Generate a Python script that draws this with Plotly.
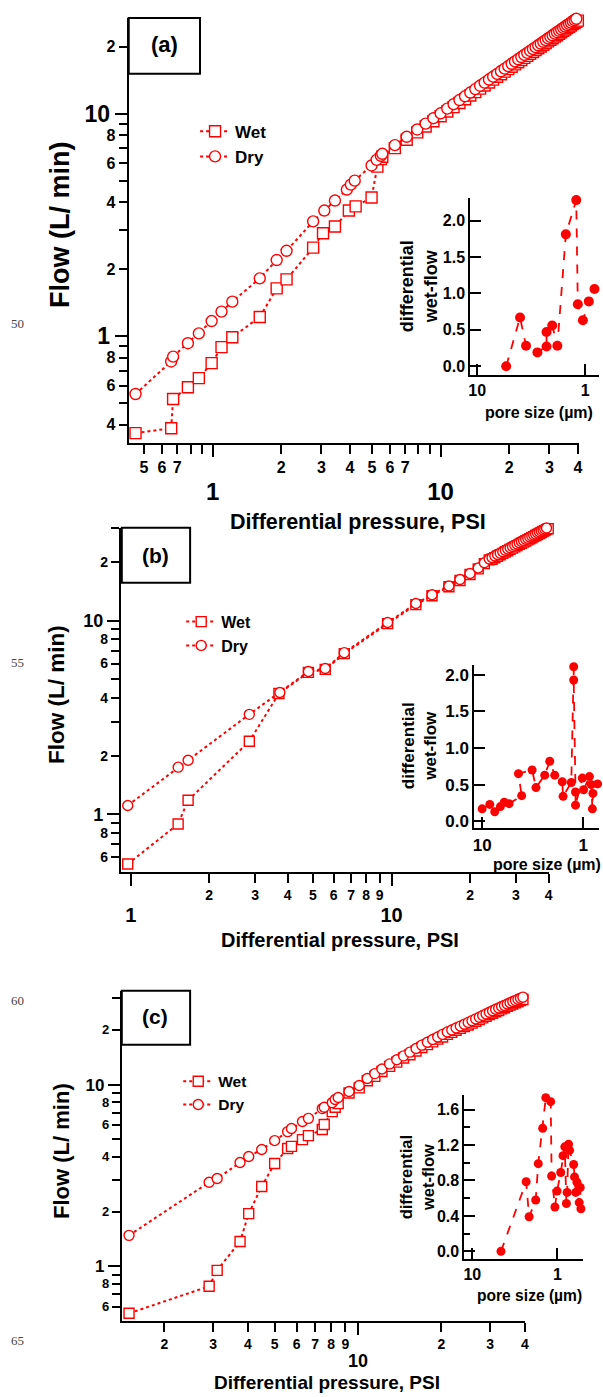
import plotly.graph_objects as go

W, H = 603, 1397
RED = "rgb(255,0,0)"
NARROW = "Liberation Sans Narrow, Arial Narrow, Liberation Sans, Arial, sans-serif"
SANS = "Liberation Sans, Arial, Helvetica, sans-serif"

# ---------------- Panel (a) ----------------
a_wet_p = [0.459, 0.658, 0.671, 0.779, 0.870, 0.99, 1.094, 1.22, 1.61, 1.91, 2.11, 2.76, 3.05, 3.44, 3.96, 4.24, 4.98, 5.28, 5.47, 5.55,
           6.3, 7.1, 7.9, 8.6, 9.3, 10.0, 10.7, 11.4, 12.1, 12.8, 13.5, 14.2, 14.9, 15.6, 16.3, 17.0, 17.7, 18.4, 19.1, 19.8,
           20.5, 21.2, 21.9, 22.6, 23.3, 24.0, 24.7, 25.4, 26.1, 26.8, 27.5, 28.2, 28.9, 29.6, 30.3, 31.0, 31.7, 32.4, 33.1,
           33.8, 34.5, 35.2, 35.9, 36.6, 37.3, 38.0, 38.7, 39.4, 40.0]
a_wet_f = [0.367, 0.386, 0.522, 0.59, 0.648, 0.757, 0.893, 0.99, 1.22, 1.64, 1.8, 2.5, 2.9, 3.11, 3.67, 3.83, 4.2, 5.78, 6.25, 6.4,
           7.0, 7.63, 8.24, 8.75, 9.25, 9.74, 10.22, 10.7, 11.16, 11.61, 12.07, 12.5, 12.95, 13.38, 13.8, 14.22, 14.64, 15.04,
           15.45, 15.86, 16.25, 16.65, 17.03, 17.42, 17.81, 18.19, 18.56, 18.93, 19.3, 19.67, 20.03, 20.4, 20.76, 21.12, 21.48,
           21.83, 22.18, 22.52, 22.87, 23.21, 23.56, 23.9, 24.24, 24.57, 24.9, 25.24, 25.56, 25.89, 26.17]
a_dry_p = [0.459, 0.658, 0.671, 0.779, 0.87, 0.99, 1.094, 1.22, 1.61, 1.91, 2.11, 2.76, 3.09, 3.44, 3.88, 4.04, 4.2, 4.98, 5.24, 5.47, 5.55,
           6.3, 7.1, 7.9, 8.6, 9.3, 10.0, 10.7, 11.4, 12.1, 12.8, 13.5, 14.2, 14.9, 15.6, 16.3, 17.0, 17.7, 18.4, 19.1, 19.8,
           20.5, 21.2, 21.9, 22.6, 23.3, 24.0, 24.7, 25.4, 26.1, 26.8, 27.5, 28.2, 28.9, 29.6, 30.3, 31.0, 31.7, 32.4, 33.1,
           33.8, 34.5, 35.2, 35.9, 36.6, 37.3, 38.0, 38.7, 39.4, 40.0]
a_dry_f = [0.55, 0.77, 0.81, 0.93, 1.03, 1.17, 1.29, 1.43, 1.82, 2.2, 2.42, 3.28, 3.67, 4.07, 4.56, 4.8, 5.0, 5.85, 6.2, 6.47, 6.6,
           7.22, 7.87, 8.49, 9.02, 9.54, 10.04, 10.54, 11.03, 11.51, 11.97, 12.44, 12.89, 13.35, 13.79, 14.23, 14.66, 15.09,
           15.51, 15.93, 16.35, 16.75, 17.16, 17.56, 17.96, 18.36, 18.75, 19.13, 19.52, 19.9, 20.28, 20.65, 21.03, 21.4, 21.77,
           22.14, 22.5, 22.87, 23.22, 23.58, 23.93, 24.29, 24.64, 24.99, 25.33, 25.67, 26.02, 26.35, 26.69, 26.98]
a_pore = [5.39, 4.01, 3.53, 2.77, 2.28, 2.28, 2.02, 1.81, 1.51, 1.21, 1.17, 1.05, 0.925, 0.82]
a_dwf = [0.0, 0.67, 0.28, 0.19, 0.27, 0.47, 0.56, 0.28, 1.81, 2.28, 0.85, 0.63, 0.89, 1.06]

# ---------------- Panel (b) ----------------
b_wet_p = [0.974, 1.52, 1.66, 2.85, 3.70, 4.8, 5.57, 6.59, 9.66, 12.4, 14.3, 16.6, 18.3, 20.0, 21.5, 22.7, 23.7,
           24.3, 24.9, 25.5, 26.1, 26.7, 27.3, 27.9, 28.5, 29.1, 29.7, 30.3, 30.9, 31.5, 32.1, 32.7, 33.3, 33.9, 34.5,
           35.1, 35.7, 36.3, 36.9, 37.5, 38.1, 38.7, 39.3, 39.9]
b_wet_f = [0.553, 0.89, 1.18, 2.38, 4.2, 5.4, 5.6, 6.75, 9.65, 12.1, 13.45, 14.95, 16.1, 17.3, 18.5, 19.7, 20.6,
           20.76, 21.13, 21.5, 21.87, 22.24, 22.61, 22.97, 23.32, 23.68, 24.04, 24.39, 24.75, 25.09, 25.44, 25.78, 26.13,
           26.47, 26.81, 27.16, 27.49, 27.83, 28.17, 28.5, 28.83, 29.16, 29.49, 29.82]
b_dry_p = [0.974, 1.52, 1.66, 2.85, 3.73, 4.8, 5.57, 6.59, 9.66, 12.4, 14.3, 16.6, 18.3, 20.0, 21.5, 22.7, 23.7,
           24.3, 24.9, 25.5, 26.1, 26.7, 27.3, 27.9, 28.5, 29.1, 29.7, 30.3, 30.9, 31.5, 32.1, 32.7, 33.3, 33.9, 34.5,
           35.1, 35.7, 36.3, 36.9, 37.5, 38.1, 38.7, 39.3, 39.9]
b_dry_f = [1.11, 1.75, 1.9, 3.28, 4.25, 5.46, 5.66, 6.83, 9.77, 12.25, 13.6, 15.1, 16.3, 17.5, 18.7, 19.9, 20.8,
           21.18, 21.56, 21.94, 22.32, 22.69, 23.07, 23.44, 23.8, 24.16, 24.53, 24.89, 25.25, 25.6, 25.96, 26.31, 26.66,
           27.01, 27.36, 27.71, 28.05, 28.4, 28.74, 29.08, 29.42, 29.76, 30.09, 30.43]
b_pore = [10.0, 8.4, 7.5, 6.6, 6.04, 5.4, 4.06, 4.37, 3.2, 2.93, 2.40, 2.14, 1.91, 1.61, 1.58, 1.31, 1.24, 1.24, 1.19, 1.19,
          1.02, 0.99, 0.867, 0.83, 0.81, 0.80, 0.72]
b_dwf = [0.17, 0.23, 0.13, 0.20, 0.26, 0.24, 0.35, 0.65, 0.70, 0.46, 0.63, 0.82, 0.63, 0.54, 0.34, 0.53, 2.11, 1.93, 0.40, 0.22,
         0.59, 0.43, 0.61, 0.50, 0.17, 0.38, 0.51]

# ---------------- Panel (c) ----------------
c_wet_p = [1.49, 2.90, 3.10, 3.75, 4.03, 4.49, 5.0, 5.57, 5.75, 6.3, 6.62, 7.43, 7.55, 8.07, 8.27, 8.48, 9.28, 10.1, 10.8,
           11.5, 12.2, 13.0, 13.8, 14.6, 15.4, 16.2, 17.0, 17.8, 18.6, 19.4, 20.2, 21.0, 21.8, 22.6, 23.4, 24.2, 25.0, 25.8,
           26.6, 27.4, 28.2, 29.0, 29.8, 30.6, 31.4, 32.2, 33.0, 33.8, 34.6, 35.4, 36.2, 37.0, 37.8, 38.6, 39.4, 40.2]
c_wet_f = [0.551, 0.776, 0.95, 1.37, 1.95, 2.75, 3.68, 4.45, 4.57, 4.98, 5.24, 5.66, 6.03, 7.1, 7.5, 7.86, 9.0, 9.6, 10.5,
           11.1, 11.8, 12.6, 13.3, 14.0, 14.6, 15.3, 16.0, 16.6, 17.2, 17.8, 18.3, 18.9, 19.4, 19.9, 20.4, 20.9, 21.3, 21.8,
           22.3, 22.8, 23.3, 23.8, 24.3, 24.7, 25.2, 25.6, 26.1, 26.5, 27.0, 27.4, 27.8, 28.2, 28.6, 29.0, 29.4, 29.8]
c_dry_p = [1.49, 2.90, 3.10, 3.75, 4.03, 4.49, 5.0, 5.57, 5.75, 6.3, 6.62, 7.43, 7.55, 8.07, 8.27, 8.48, 9.28, 10.1, 10.8,
           11.5, 12.2, 13.0, 13.8, 14.6, 15.4, 16.2, 17.0, 17.8, 18.6, 19.4, 20.2, 21.0, 21.8, 22.6, 23.4, 24.2, 25.0, 25.8,
           26.6, 27.4, 28.2, 29.0, 29.8, 30.6, 31.4, 32.2, 33.0, 33.8, 34.6, 35.4, 36.2, 37.0, 37.8, 38.6, 39.4, 40.2]
c_dry_f = [1.48, 2.9, 3.04, 3.73, 4.02, 4.39, 4.92, 5.51, 5.73, 6.26, 6.52, 7.38, 7.5, 7.96, 8.28, 8.5, 9.17, 9.88, 10.8,
           11.5, 12.2, 13.0, 13.7, 14.4, 15.1, 15.8, 16.5, 17.1, 17.7, 18.3, 18.9, 19.5, 20.0, 20.5, 21.0, 21.5, 22.0, 22.5,
           23.0, 23.5, 24.0, 24.5, 25.0, 25.5, 26.0, 26.4, 26.9, 27.3, 27.8, 28.2, 28.7, 29.1, 29.5, 29.9, 30.3, 30.7]
c_pore = [4.6, 2.33, 2.15, 1.80, 1.68, 1.49, 1.37, 1.20, 1.17, 1.07, 1.01, 0.915, 0.86, 0.82, 0.785, 0.77, 0.74, 0.72,
          0.645, 0.63, 0.61, 0.59, 0.555, 0.54, 0.53]
c_dwf = [0.0, 0.785, 0.39, 0.58, 0.99, 1.39, 1.735, 1.69, 0.85, 0.50, 0.68, 0.89, 1.08, 1.18, 0.54, 0.665, 1.21, 1.14,
         0.98, 0.84, 0.665, 0.78, 0.55, 0.72, 0.48]

series_names = ["Wet", "Dry"]
panel_labels = ["(a)", "(b)", "(c)"]
line_numbers = ["50", "55", "60", "65"]
x_title = "Differential pressure, PSI"
y_title = "Flow (L/ min)"
inset_y_title = "differential<br>wet-flow"
inset_x_title = "pore size (µm)"


def X(p):
    return p / W


def Y(p):
    return 1 - p / H


fig = go.Figure()

panels = [
    dict(xa="x", ya="y", leg="legend", wet=(a_wet_p, a_wet_f), dry=(a_dry_p, a_dry_f), ms=11),
    dict(xa="x2", ya="y2", leg="legend2", wet=(b_wet_p, b_wet_f), dry=(b_dry_p, b_dry_f), ms=10),
    dict(xa="x3", ya="y3", leg="legend3", wet=(c_wet_p, c_wet_f), dry=(c_dry_p, c_dry_f), ms=10),
]
for pnl in panels:
    for name, sym, (xs, ys) in [(series_names[0], "square", pnl["wet"]), (series_names[1], "circle", pnl["dry"])]:
        fig.add_trace(go.Scatter(
            x=xs, y=ys, name=name, mode="lines+markers", xaxis=pnl["xa"], yaxis=pnl["ya"], legend=pnl["leg"],
            line=dict(color=RED, width=2, dash="dot"),
            marker=dict(symbol=sym, size=pnl["ms"], color="white", line=dict(color=RED, width=1.4)),
            cliponaxis=False,
        ))

insets = [("x4", "y4", a_pore, a_dwf, 10), ("x5", "y5", b_pore, b_dwf, 9), ("x6", "y6", c_pore, c_dwf, 9)]
for xa, ya, xs, ys, ms in insets:
    fig.add_trace(go.Scatter(
        x=xs, y=ys, mode="lines+markers", xaxis=xa, yaxis=ya, showlegend=False,
        line=dict(color=RED, width=1.8, dash="dash"),
        marker=dict(symbol="circle", size=ms, color=RED),
        cliponaxis=False,
    ))

# empty traces so that the overlaying "major decade" axes get drawn
for xa, ya in [("x7", "y"), ("x", "y7"), ("x8", "y2"), ("x2", "y8"), ("x9", "y3"), ("x3", "y9")]:
    fig.add_trace(go.Scatter(x=[], y=[], xaxis=xa, yaxis=ya, showlegend=False, hoverinfo="skip", mode="markers"))


def main_x(dom, rng, vals, txt, fs):
    return dict(type="log", domain=[X(dom[0]), X(dom[1])], range=rng, tickmode="array", tickvals=vals, ticktext=txt,
                ticks="outside", ticklen=9, tickwidth=2, tickcolor="black", showline=True, linewidth=2,
                linecolor="black", showgrid=False, zeroline=False,
                tickfont=dict(family=NARROW, size=fs, color="black", weight="bold"))


def main_y(dom, rng, vals, txt, fs):
    return dict(type="log", domain=[Y(dom[1]), Y(dom[0])], range=rng, tickmode="array", tickvals=vals, ticktext=txt,
                ticks="outside", ticklen=8, tickwidth=2, tickcolor="black", showline=True, linewidth=2,
                linecolor="black", showgrid=False, zeroline=False,
                tickfont=dict(family=NARROW, size=fs, color="black", weight="bold"))


def major(over, anchor, rng, vals, txt, fs, standoff):
    return dict(type="log", overlaying=over, anchor=anchor, range=rng, tickmode="array", tickvals=vals, ticktext=txt,
                ticks="outside", ticklen=13, tickwidth=2, tickcolor="black", showline=False, showgrid=False,
                zeroline=False, ticklabelstandoff=standoff,
                tickfont=dict(family=NARROW, size=fs, color="black", weight="bold"))


def inset_x(dom, rng, anchor, fs):
    return dict(type="log", domain=[X(dom[0]), X(dom[1])], range=rng, anchor=anchor, tickmode="array",
                tickvals=[10, 1], ticktext=["10", "1"], ticks="inside", ticklen=11, tickwidth=2, tickcolor="black",
                showline=True, linewidth=2, linecolor="black", showgrid=False, zeroline=False,
                tickfont=dict(family=SANS, size=fs, color="black", weight="bold"))


def inset_y(dom, rng, anchor, vals, txt, fs, minor=None):
    d = dict(domain=[Y(dom[1]), Y(dom[0])], range=rng, anchor=anchor, tickmode="array", tickvals=vals, ticktext=txt,
             ticks="inside", ticklen=11, tickwidth=2, tickcolor="black", showline=True, linewidth=2,
             linecolor="black", showgrid=False, zeroline=False,
             tickfont=dict(family=SANS, size=fs, color="black", weight="bold"))
    if minor:
        d["minor"] = dict(tickvals=minor, ticks="inside", ticklen=6, tickwidth=1.5, tickcolor="black")
    return d


a_xr = [-0.368, 1.608]
a_yr = [-0.48, 1.43]
b_xr = [-0.038, 1.602]
b_yr = [-0.299, 1.479]
c_xr = [0.147, 1.602]
c_yr = [-0.302, 1.516]

a_xv = [0.5, 0.6, 0.7, 0.8, 0.9, 1, 2, 3, 4, 5, 6, 7, 8, 9, 10, 20, 30, 40]
a_xt = ["5", "6", "7", "", "", "", "2", "3", "4", "5", "6", "7", "", "", "", "2", "3", "4"]
a_yv = [0.4, 0.5, 0.6, 0.7, 0.8, 0.9, 1, 2, 3, 4, 5, 6, 7, 8, 9, 10, 20]
a_yt = ["4", "", "6", "", "8", "", "", "2", "", "4", "", "6", "", "8", "", "", "2"]
b_xv = [1, 2, 3, 4, 5, 6, 7, 8, 9, 10, 20, 30, 40]
b_xt = ["", "2", "3", "4", "5", "6", "7", "8", "9", "", "2", "3", "4"]
b_yv = [0.6, 0.7, 0.8, 0.9, 1, 2, 3, 4, 5, 6, 7, 8, 9, 10, 20, 30]
b_yt = ["6", "", "8", "", "", "2", "", "4", "", "6", "", "8", "", "", "2", ""]
c_xv = [2, 3, 4, 5, 6, 7, 8, 9, 10, 20, 30, 40]
c_xt = ["2", "3", "4", "5", "6", "7", "8", "9", "", "2", "3", "4"]
c_yv = [0.6, 0.7, 0.8, 0.9, 1, 2, 3, 4, 5, 6, 7, 8, 9, 10, 20, 30]
c_yt = ["6", "", "8", "", "", "2", "", "4", "", "6", "", "8", "", "", "2", ""]

fig.update_layout(
    width=W, height=H, margin=dict(l=0, r=0, t=0, b=0), paper_bgcolor="white", plot_bgcolor="white",
    xaxis=main_x((128, 583), a_xr, a_xv, a_xt, 16),
    yaxis=main_y((18, 444), a_yr, a_yv, a_yt, 16),
    xaxis2=dict(main_x((120, 552), b_xr, b_xv, b_xt, 14), anchor="y2"),
    yaxis2=dict(main_y((529, 874), b_yr, b_yv, b_yt, 14), anchor="x2"),
    xaxis3=dict(main_x((121, 528), c_xr, c_xv, c_xt, 14), anchor="y3"),
    yaxis3=dict(main_y((993, 1324), c_yr, c_yv, c_yt, 13), anchor="x3"),
    xaxis4=inset_x((473, 603), [1.064, -0.128], "y4", 16),
    yaxis4=inset_y((198, 376), [-0.123, 2.315], "x4", [0, 0.5, 1, 1.5, 2], ["0.0", "0.5", "1.0", "1.5", "2.0"], 16),
    xaxis5=inset_x((477, 603), [1.078, -0.157], "y5", 17),
    yaxis5=inset_y((666, 830), [-0.095, 2.14], "x5", [0, 0.5, 1, 1.5, 2], ["0.0", "0.5", "1.0", "1.5", "2.0"], 17),
    xaxis6=inset_x((467, 587), [1.093, -0.302], "y6", 16),
    yaxis6=inset_y((1097, 1262), [-0.09, 1.769], "x6", [0, 0.4, 0.8, 1.2, 1.6], ["0.0", "0.4", "0.8", "1.2", "1.6"], 16,
                   minor=[0.2, 0.6, 1.0, 1.4]),
    xaxis7=major("x", "y", a_xr, [1, 10], ["1", "10"], 24, 14),
    yaxis7=major("y", "x", a_yr, [1, 10], ["1", "10"], 23, 0),
    xaxis8=major("x2", "y2", b_xr, [1, 10], ["1", "10"], 20, 12),
    yaxis8=major("y2", "x2", b_yr, [1, 10], ["1", "10"], 18, 0),
    xaxis9=major("x3", "y3", c_xr, [10], ["10"], 18, 10),
    yaxis9=major("y3", "x3", c_yr, [1, 10], ["1", "10"], 17, 0),
)

leg_common = dict(bgcolor="rgba(0,0,0,0)", borderwidth=0, xanchor="left", yanchor="top", tracegroupgap=0,
                  itemsizing="trace")
fig.update_layout(
    legend=dict(leg_common, x=X(195), y=Y(114), font=dict(family=NARROW, size=17, color="black", weight="bold")),
    legend2=dict(leg_common, x=X(181), y=Y(606), font=dict(family=NARROW, size=16, color="black", weight="bold")),
    legend3=dict(leg_common, x=X(178), y=Y(1067), font=dict(family=NARROW, size=15.5, color="black", weight="bold")),
)

# panel label boxes
boxes = [((128, 18), (200, 74)), ((121, 529), (190, 584)), ((121, 993), (190, 1047))]
for (x0, y0), (x1, y1) in boxes:
    fig.add_shape(type="rect", xref="paper", yref="paper", x0=X(x0), x1=X(x1), y0=Y(y1), y1=Y(y0),
                  line=dict(color="black", width=2), fillcolor="white", layer="above")

annots = []
for txt, (cx, cy), fs in zip(panel_labels, [(164, 45), (155, 557), (155, 1019)], [22, 21, 21]):
    annots.append(dict(text=txt, x=X(cx), y=Y(cy), font=dict(family=SANS, size=fs, color="black", weight="bold")))
for (cx, cy), fs in zip([(58, 225), (55, 696), (60, 1153)], [27, 22.5, 22]):
    annots.append(dict(text=y_title, x=X(cx), y=Y(cy), textangle=-90,
                       font=dict(family=SANS, size=fs, color="black", weight="bold")))
for (cx, cy), fs in zip([(360, 523), (341, 942), (328, 1385)], [21.5, 20, 19]):
    annots.append(dict(text=x_title, x=X(cx), y=Y(cy), font=dict(family=NARROW, size=fs, color="black", weight="bold")))
for (cx, cy), fs in zip([(421, 287), (422, 747), (419, 1180)], [18, 17, 16.5]):
    annots.append(dict(text=inset_y_title, x=X(cx), y=Y(cy), textangle=-90,
                       font=dict(family=SANS, size=fs, color="black", weight="bold")))
for (cx, cy), fs in zip([(542, 413), (550, 866), (533, 1298)], [16, 16, 15.6]):
    annots.append(dict(text=inset_x_title, x=X(cx), y=Y(cy),
                       font=dict(family=SANS, size=fs, color="black", weight="bold")))
for txt, cy in zip(line_numbers, [324, 664, 1003, 1343]):
    annots.append(dict(text=txt, x=X(16), y=Y(cy), font=dict(family="Liberation Serif, Times New Roman, serif",
                                                             size=13, color="#444444")))
for a in annots:
    a.update(xref="paper", yref="paper", showarrow=False, xanchor="center", yanchor="middle")
fig.update_layout(annotations=annots)

fig.write_html("out.html", config={"displayModeBar": False},
               post_script="document.body.style.margin='0';document.body.style.overflow='hidden';")
